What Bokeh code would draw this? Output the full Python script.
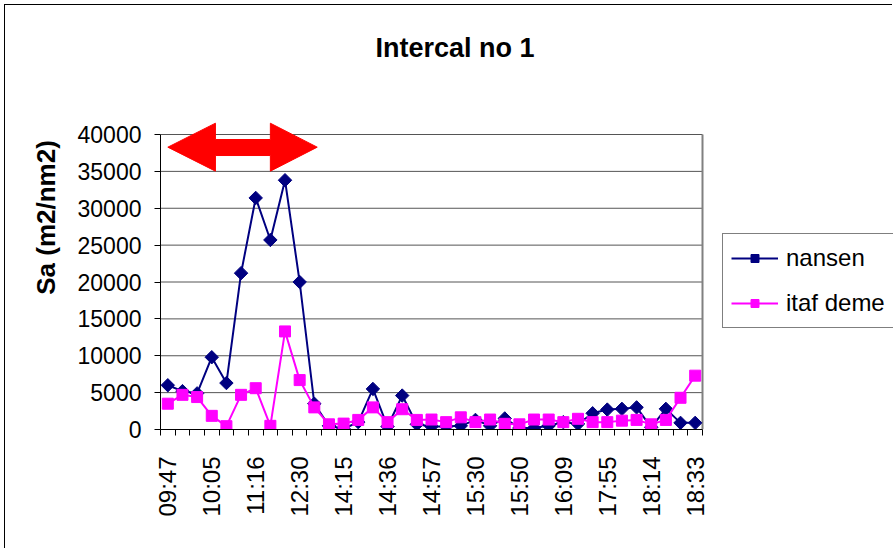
import math

from bokeh.plotting import figure
from bokeh.models import Range1d, FixedTicker, Legend, LegendItem, Label
from bokeh.embed import file_html
from bokeh.resources import INLINE

# Sampling times, one label for every third station
time_labels = ["09:47", "10:05", "11:16", "12:30", "14:15", "14:36", "14:57",
               "15:30", "15:50", "16:09", "17:55", "18:14", "18:33"]
label_step = 3

# Sa values (m2/nm2) per station
nansen = [6000, 5200, 4900, 9800, 6300, 21200, 31400, 25700, 33800, 20000,
          3500, 500, 100, 1000, 5500, 400, 4600, 700, 400, 400,
          500, 1300, 500, 1500, 200, 200, 500, 1000, 750, 2200,
          2700, 2800, 3000, 300, 2800, 900, 900]
itaf_deme = [3500, 4700, 4400, 1850, 450, 4700, 5600, 500, 13300, 6700,
             3000, 700, 800, 1300, 3000, 1000, 2750, 1300, 1350, 1000,
             1650, 1000, 1350, 770, 700, 1350, 1350, 1000, 1450, 1000,
             1000, 1200, 1300, 700, 1300, 4300, 7300]

y_top = 40000
y_step = 5000
y_ticks = list(range(0, y_top + 1, y_step))

# Red double-headed arrow marking the intercalibration period
arrow_x = [0.0, 3.25, 3.25, 7.0, 7.0, 10.2, 7.0, 7.0, 3.25, 3.25]
arrow_y = [38280, 41530, 39320, 39320, 41530, 38280, 35030, 37150, 37150, 35030]

n = len(nansen)
xs = list(range(n))

# Pixel geometry: the plot area proper is 542 x 295 px; the frame is
# extended right and up so the legend, arrow and title sit inside it.
AREA_W, AREA_H = 542, 295
FRAME_W, FRAME_H = 733, 424
x_end = -0.5 + n * FRAME_W / AREA_W
y_end = y_top * FRAME_H / AREA_H

FONT = "Liberation Sans"

p = figure(width=888, height=544,
           x_range=Range1d(-0.5, x_end), y_range=Range1d(0, y_end),
           output_backend="svg", toolbar_location=None,
           min_border_left=155, min_border_right=0,
           min_border_top=0, min_border_bottom=120,
           margin=(4, 0, 0, 4),
           styles={"border-left": "1px solid black", "border-top": "1px solid black"})
p.outline_line_color = None
p.background_fill_color = "white"
p.border_fill_color = "white"
p.xgrid.visible = False
p.ygrid.visible = False

# Title
p.add_layout(Label(x=19.6, y=51700, text="Intercal no 1",
                   text_align="center", text_baseline="middle",
                   text_font=FONT, text_font_size="27px",
                   text_font_style="bold", text_color="black"))

# Y axis
p.yaxis.ticker = FixedTicker(ticks=y_ticks)
p.yaxis.bounds = (0, y_top)
p.yaxis.axis_label = "Sa (m2/nm2)"
p.yaxis.axis_label_text_font = FONT
p.yaxis.axis_label_text_font_size = "26px"
p.yaxis.axis_label_text_font_style = "bold"
p.yaxis.axis_label_text_color = "black"
p.yaxis.axis_label_standoff = 14
p.yaxis.major_label_text_font = FONT
p.yaxis.major_label_text_font_size = "23px"
p.yaxis.major_label_text_color = "black"
p.yaxis.major_label_standoff = 13
p.yaxis.major_tick_out = 6
p.yaxis.major_tick_in = 0
p.yaxis.minor_tick_out = 0
p.yaxis.minor_tick_in = 0
p.yaxis.axis_line_color = "black"
p.yaxis.major_tick_line_color = "black"

# X axis: labels on every third station, ticks between stations
label_idx = list(range(0, n, label_step))
p.xaxis.ticker = FixedTicker(ticks=label_idx,
                             minor_ticks=[i - 0.5 for i in range(n + 1)])
p.xaxis.bounds = (-0.5, n - 0.5)
p.xaxis.major_label_overrides = {i: t for i, t in zip(label_idx, time_labels)}
p.xaxis.major_label_orientation = math.pi / 2
p.xaxis.major_label_text_font = FONT
p.xaxis.major_label_text_font_size = "24px"
p.xaxis.major_label_text_color = "black"
p.xaxis.major_label_standoff = 21
p.xaxis.major_tick_out = 0
p.xaxis.major_tick_in = 0
p.xaxis.minor_tick_out = 6
p.xaxis.minor_tick_in = 0
p.xaxis.minor_tick_line_color = "black"
p.xaxis.axis_line_color = "black"

# Horizontal gridlines and the right edge of the plot area
grid_y = y_ticks[1:]
p.segment(x0=[-0.5] * len(grid_y), y0=grid_y, x1=[n - 0.5] * len(grid_y), y1=grid_y,
          line_color="#555555", line_width=1)
p.segment(x0=[n - 0.5], y0=[0], x1=[n - 0.5], y1=[y_top],
          line_color="#808080", line_width=2)

# Series
navy = "#000080"
magenta = "#FF00FF"
l1 = p.line(xs, nansen, line_color=navy, line_width=2)
s1 = p.scatter(xs, nansen, marker="square", angle=math.pi / 4, size=9.5,
               fill_color=navy, line_color=navy)
l2 = p.line(xs, itaf_deme, line_color=magenta, line_width=2)
s2 = p.scatter(xs, itaf_deme, marker="square", size=11,
               fill_color=magenta, line_color=magenta)

p.patch(arrow_x, arrow_y, fill_color="#FF0000", line_color="#FF0000")

legend = Legend(items=[LegendItem(label="nansen", renderers=[l1, s1]),
                       LegendItem(label="itaf deme", renderers=[l2, s2])],
                location=(562, 101))
legend.label_text_font = FONT
legend.label_text_font_size = "24px"
legend.label_text_color = "black"
legend.glyph_width = 47
legend.glyph_height = 20
legend.label_height = 32
legend.label_standoff = 8
legend.padding = 8
legend.spacing = 13
legend.border_line_color = "black"
legend.border_line_width = 1
legend.background_fill_color = "white"
legend.background_fill_alpha = 1.0
p.add_layout(legend)

open("out.html", "w").write(file_html(p, INLINE))
